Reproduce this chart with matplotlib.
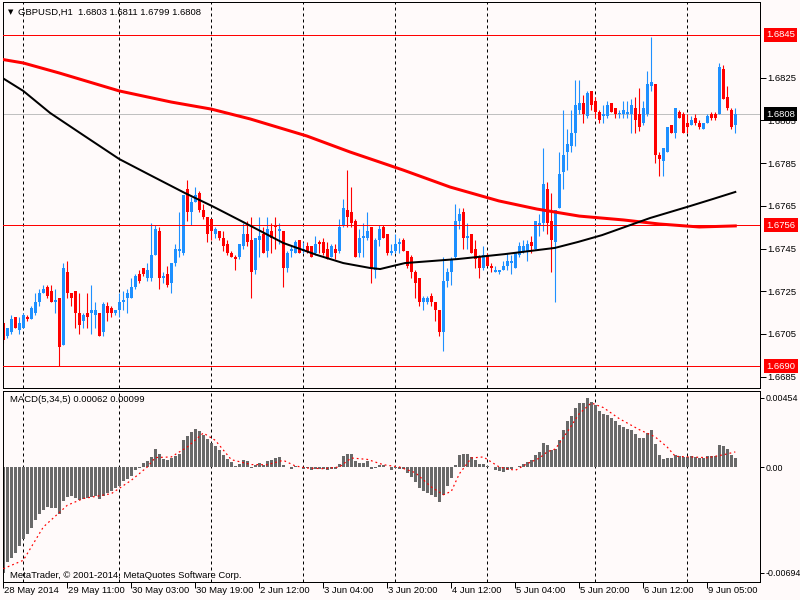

# GBPUSD H1 con MACD, estilo MetaTrader
import matplotlib
matplotlib.use('Agg')
import matplotlib.pyplot as plt
import matplotlib.transforms as mtransforms

# %% datos (velas de 1 hora)
apertura = [
    1.6710, 1.6704, 1.6706, 1.6713, 1.6707, 1.6708, 1.6713, 1.6712, 1.6715, 1.6720,
    1.6724, 1.6727, 1.6725, 1.6720, 1.6722, 1.6700, 1.6734, 1.6724, 1.6725, 1.6715,
    1.6711, 1.6715, 1.6715, 1.6714, 1.6715, 1.6706, 1.6718, 1.6717, 1.6715, 1.6716,
    1.6720, 1.6722, 1.6722, 1.6727, 1.6733, 1.6736, 1.6731, 1.6731, 1.6742, 1.6753,
    1.6731, 1.6733, 1.6729, 1.6738, 1.6744, 1.6743, 1.6773, 1.6762, 1.6767, 1.6771,
    1.6763, 1.6760, 1.6759, 1.6752, 1.6753, 1.6750, 1.6747, 1.6743, 1.6741, 1.6741,
    1.6746, 1.6752, 1.6749, 1.6735, 1.6749, 1.6752, 1.6744, 1.6753, 1.6756, 1.6753,
    1.6753, 1.6736, 1.6744, 1.6743, 1.6749, 1.6744, 1.6746, 1.6746, 1.6743, 1.6748,
    1.6748, 1.6745, 1.6741, 1.6745, 1.6744, 1.6756, 1.6763, 1.6762, 1.6758, 1.6743,
    1.6750, 1.6750, 1.6755, 1.6735, 1.6749, 1.6755, 1.6752, 1.6743, 1.6744, 1.6747,
    1.6749, 1.6744, 1.6741, 1.6734, 1.6731, 1.6720, 1.6720, 1.6723, 1.6720, 1.6716,
    1.6706, 1.6730, 1.6734, 1.6741, 1.6758, 1.6762, 1.6750, 1.6752, 1.6745, 1.6741,
    1.6736, 1.6742, 1.6737, 1.6734, 1.6734, 1.6735, 1.6737, 1.6738, 1.6736, 1.6742,
    1.6744, 1.6744, 1.6748, 1.6745, 1.6756, 1.6757, 1.6773, 1.6758, 1.6748, 1.6764,
    1.6781, 1.6790, 1.6793, 1.6799, 1.6810, 1.6813, 1.6807, 1.6819, 1.6814, 1.6809,
    1.6807, 1.6807, 1.6813, 1.6811, 1.6808, 1.6808, 1.6808, 1.6808, 1.6811, 1.6808,
    1.6804, 1.6808, 1.6821, 1.6822, 1.6789, 1.6786, 1.6790, 1.6803, 1.6799, 1.6809,
    1.6808, 1.6804, 1.6803, 1.6806, 1.6804, 1.6801, 1.6804, 1.6808, 1.6808, 1.6808,
    1.6829, 1.6816, 1.6810, 1.6803]
maximo = [
    1.6711, 1.6708, 1.6714, 1.6713, 1.6713, 1.6715, 1.6714, 1.6718, 1.6724, 1.6726,
    1.6728, 1.6728, 1.6728, 1.6726, 1.6722, 1.6738, 1.6739, 1.6724, 1.6725, 1.6724,
    1.6715, 1.6724, 1.6728, 1.6720, 1.6715, 1.6720, 1.6720, 1.6718, 1.6716, 1.6724,
    1.6725, 1.6726, 1.6731, 1.6733, 1.6735, 1.6736, 1.6738, 1.6757, 1.6756, 1.6755,
    1.6734, 1.6737, 1.6738, 1.6747, 1.6762, 1.6770, 1.6777, 1.6769, 1.6774, 1.6772,
    1.6766, 1.6760, 1.6759, 1.6755, 1.6753, 1.6753, 1.6749, 1.6744, 1.6742, 1.6747,
    1.6757, 1.6758, 1.6760, 1.6750, 1.6760, 1.6755, 1.6760, 1.6757, 1.6760, 1.6757,
    1.6753, 1.6744, 1.6746, 1.6749, 1.6749, 1.6748, 1.6748, 1.6746, 1.6751, 1.6749,
    1.6750, 1.6748, 1.6747, 1.6747, 1.6759, 1.6768, 1.6782, 1.6774, 1.6759, 1.6754,
    1.6757, 1.6762, 1.6755, 1.6750, 1.6756, 1.6756, 1.6752, 1.6747, 1.6752, 1.6750,
    1.6750, 1.6744, 1.6742, 1.6735, 1.6731, 1.6723, 1.6723, 1.6724, 1.6720, 1.6716,
    1.6741, 1.6736, 1.6741, 1.6766, 1.6764, 1.6764, 1.6757, 1.6752, 1.6749, 1.6742,
    1.6746, 1.6743, 1.6738, 1.6737, 1.6735, 1.6739, 1.6743, 1.6742, 1.6743, 1.6748,
    1.6749, 1.6749, 1.6751, 1.6758, 1.6761, 1.6792, 1.6776, 1.6771, 1.6763, 1.6790,
    1.6810, 1.6801, 1.6810, 1.6824, 1.6824, 1.6817, 1.6819, 1.6819, 1.6816, 1.6810,
    1.6812, 1.6814, 1.6813, 1.6811, 1.6810, 1.6814, 1.6814, 1.6815, 1.6816, 1.6820,
    1.6814, 1.6828, 1.6844, 1.6822, 1.6790, 1.6792, 1.6802, 1.6803, 1.6811, 1.6810,
    1.6809, 1.6808, 1.6807, 1.6808, 1.6805, 1.6804, 1.6808, 1.6809, 1.6809, 1.6832,
    1.6831, 1.6821, 1.6811, 1.6811]
minimo = [
    1.6701, 1.6703, 1.6705, 1.6708, 1.6705, 1.6708, 1.6711, 1.6712, 1.6714, 1.6718,
    1.6724, 1.6722, 1.6720, 1.6715, 1.6690, 1.6700, 1.6722, 1.6718, 1.6708, 1.6705,
    1.6708, 1.6708, 1.6705, 1.6708, 1.6704, 1.6704, 1.6711, 1.6713, 1.6714, 1.6713,
    1.6716, 1.6715, 1.6722, 1.6726, 1.6729, 1.6732, 1.6730, 1.6730, 1.6742, 1.6726,
    1.6729, 1.6727, 1.6724, 1.6737, 1.6741, 1.6742, 1.6758, 1.6756, 1.6767, 1.6762,
    1.6759, 1.6748, 1.6749, 1.6750, 1.6749, 1.6744, 1.6742, 1.6741, 1.6735, 1.6740,
    1.6745, 1.6746, 1.6722, 1.6733, 1.6741, 1.6743, 1.6741, 1.6743, 1.6745, 1.6747,
    1.6727, 1.6734, 1.6741, 1.6743, 1.6743, 1.6743, 1.6743, 1.6741, 1.6742, 1.6743,
    1.6742, 1.6740, 1.6741, 1.6740, 1.6743, 1.6755, 1.6755, 1.6755, 1.6741, 1.6741,
    1.6741, 1.6749, 1.6729, 1.6731, 1.6746, 1.6750, 1.6742, 1.6742, 1.6743, 1.6743,
    1.6744, 1.6736, 1.6731, 1.6722, 1.6718, 1.6716, 1.6719, 1.6718, 1.6711, 1.6704,
    1.6697, 1.6727, 1.6728, 1.6740, 1.6754, 1.6745, 1.6745, 1.6743, 1.6736, 1.6731,
    1.6735, 1.6737, 1.6734, 1.6734, 1.6733, 1.6735, 1.6735, 1.6733, 1.6736, 1.6741,
    1.6743, 1.6739, 1.6743, 1.6745, 1.6751, 1.6753, 1.6752, 1.6734, 1.6720, 1.6764,
    1.6773, 1.6782, 1.6790, 1.6793, 1.6808, 1.6804, 1.6806, 1.6810, 1.6806, 1.6804,
    1.6804, 1.6806, 1.6809, 1.6806, 1.6806, 1.6806, 1.6806, 1.6799, 1.6799, 1.6800,
    1.6803, 1.6807, 1.6819, 1.6785, 1.6779, 1.6779, 1.6790, 1.6799, 1.6797, 1.6806,
    1.6799, 1.6799, 1.6803, 1.6803, 1.6801, 1.6801, 1.6804, 1.6805, 1.6805, 1.6808,
    1.6815, 1.6810, 1.6801, 1.6799]
cierre = [
    1.6702, 1.6708, 1.6712, 1.6708, 1.6710, 1.6714, 1.6712, 1.6717, 1.6720, 1.6724,
    1.6726, 1.6723, 1.6720, 1.6721, 1.6699, 1.6736, 1.6724, 1.6722, 1.6715, 1.6709,
    1.6714, 1.6713, 1.6716, 1.6716, 1.6704, 1.6719, 1.6715, 1.6715, 1.6716, 1.6720,
    1.6721, 1.6724, 1.6727, 1.6732, 1.6730, 1.6733, 1.6735, 1.6742, 1.6754, 1.6731,
    1.6732, 1.6728, 1.6738, 1.6745, 1.6745, 1.6770, 1.6762, 1.6767, 1.6770, 1.6763,
    1.6760, 1.6752, 1.6753, 1.6754, 1.6750, 1.6746, 1.6743, 1.6741, 1.6740, 1.6747,
    1.6752, 1.6748, 1.6734, 1.6750, 1.6751, 1.6743, 1.6754, 1.6750, 1.6755, 1.6754,
    1.6736, 1.6743, 1.6745, 1.6748, 1.6743, 1.6745, 1.6744, 1.6741, 1.6747, 1.6747,
    1.6743, 1.6740, 1.6746, 1.6743, 1.6755, 1.6764, 1.6760, 1.6757, 1.6741, 1.6750,
    1.6751, 1.6753, 1.6736, 1.6749, 1.6754, 1.6750, 1.6743, 1.6744, 1.6747, 1.6748,
    1.6744, 1.6737, 1.6734, 1.6729, 1.6720, 1.6722, 1.6722, 1.6720, 1.6716, 1.6706,
    1.6730, 1.6734, 1.6740, 1.6758, 1.6761, 1.6750, 1.6751, 1.6743, 1.6740, 1.6736,
    1.6742, 1.6737, 1.6736, 1.6735, 1.6735, 1.6737, 1.6739, 1.6739, 1.6743, 1.6746,
    1.6746, 1.6747, 1.6746, 1.6758, 1.6757, 1.6775, 1.6757, 1.6749, 1.6763, 1.6780,
    1.6789, 1.6794, 1.6799, 1.6812, 1.6813, 1.6808, 1.6818, 1.6812, 1.6809, 1.6805,
    1.6808, 1.6812, 1.6809, 1.6808, 1.6808, 1.6810, 1.6809, 1.6812, 1.6805, 1.6802,
    1.6811, 1.6822, 1.6823, 1.6789, 1.6787, 1.6792, 1.6802, 1.6799, 1.6811, 1.6806,
    1.6799, 1.6802, 1.6805, 1.6804, 1.6802, 1.6804, 1.6807, 1.6806, 1.6806, 1.6830,
    1.6815, 1.6811, 1.6802, 1.6808]

# medias moviles (lecturas: indice de vela, precio)
ma_lenta_idx = [-1, 5, 14, 29, 42, 52, 61.7, 75.9, 86.7, 99.9, 111.7, 123.9, 133.4, 144,
                155, 164, 174, 183]
ma_lenta = [1.68338, 1.68319, 1.68272, 1.68188, 1.68136, 1.68103, 1.68057, 1.67977, 1.67902,
            1.67818, 1.67738, 1.67673, 1.67635, 1.67602, 1.67584, 1.67565, 1.67551, 1.67556]
ma_rapida_idx = [-1, 5, 11.7, 19.2, 29, 36.7, 45.4, 52.2, 60.4, 70, 78.4, 85, 91.7, 94.2, 100.4,
                 113.7, 125.4, 137.9, 143.7, 149.7, 155.4, 161.7, 171.7, 177.4, 183]
ma_rapida = [1.68258, 1.68188, 1.68085, 1.67991, 1.67869, 1.67794, 1.67710, 1.67649, 1.67570,
             1.67476, 1.67420, 1.67382, 1.67359, 1.67354, 1.67382, 1.67401, 1.67424, 1.67453,
             1.67481, 1.67513, 1.67551, 1.67593, 1.67649, 1.67682, 1.67715]

# lineas horizontales (rojas) y precio bid
niveles = [1.6845, 1.6756, 1.6690]
bid = 1.6808
precios_eje = [1.6825, 1.6805, 1.6785, 1.6765, 1.6745, 1.6725, 1.6705, 1.6685]

# MACD(5,34,5): histograma y señal
macd = [
    -0.00696, -0.00626, -0.00597, -0.00564, -0.00521, -0.00472, -0.00438, -0.00400, -0.00346, -0.00306,
    -0.00285, -0.00262, -0.00269, -0.00269, -0.00306, -0.00226, -0.00197, -0.00188, -0.00203, -0.00219,
    -0.00210, -0.00203, -0.00197, -0.00193, -0.00210, -0.00188, -0.00171, -0.00160, -0.00138, -0.00127,
    -0.00094, -0.00079, -0.00057, -0.00022, -0.00007, 0.00026, 0.00037, 0.00066, 0.00118, 0.00087,
    0.00052, 0.00048, 0.00059, 0.00070, 0.00087, 0.00179, 0.00205, 0.00227, 0.00249, 0.00234,
    0.00212, 0.00184, 0.00157, 0.00140, 0.00113, 0.00081, 0.00052, 0.00030, 0.00009, 0.00022,
    0.00043, 0.00037, -0.00007, 0.00015, 0.00026, 0.00015, 0.00037, 0.00044, 0.00059, 0.00066,
    0.00015, -0.00002, -0.00011, 0.00007, -0.00002, -0.00011, -0.00007, -0.00022, -0.00011, -0.00011,
    -0.00011, -0.00022, -0.00011, -0.00011, 0.00022, 0.00072, 0.00087, 0.00087, 0.00037, 0.00028,
    0.00028, 0.00037, -0.00011, -0.00007, 0.00015, 0.00015, 0.00000, -0.00022, -0.00007, -0.00011,
    -0.00011, -0.00037, -0.00066, -0.00098, -0.00138, -0.00159, -0.00168, -0.00182, -0.00197, -0.00230,
    -0.00182, -0.00125, -0.00072, 0.00015, 0.00081, 0.00087, 0.00087, 0.00066, 0.00044, 0.00020,
    0.00020, 0.00007, 0.00000, -0.00022, -0.00028, -0.00033, -0.00022, -0.00011, 0.00000, 0.00007,
    0.00022, 0.00033, 0.00044, 0.00081, 0.00098, 0.00157, 0.00142, 0.00109, 0.00120, 0.00179,
    0.00241, 0.00302, 0.00333, 0.00387, 0.00420, 0.00420, 0.00454, 0.00424, 0.00405, 0.00367,
    0.00346, 0.00339, 0.00324, 0.00302, 0.00273, 0.00262, 0.00247, 0.00245, 0.00214, 0.00190,
    0.00190, 0.00223, 0.00241, 0.00149, 0.00077, 0.00050, 0.00059, 0.00059, 0.00081, 0.00072,
    0.00066, 0.00066, 0.00070, 0.00066, 0.00061, 0.00061, 0.00070, 0.00070, 0.00070, 0.00142,
    0.00135, 0.00116, 0.00077, 0.00062]
senal_idx = [0, 5, 10, 16, 20, 27, 32, 36, 38, 42, 46, 50, 53, 57, 62, 66, 70, 73, 76, 80, 84,
             87, 91, 95, 99, 103, 107, 110, 112, 114, 117, 120, 124, 128, 131, 134, 136, 138, 141,
             144, 147, 150, 154, 159, 163, 166, 168, 172, 176, 180, 183]
senal = [-0.00667, -0.00612, -0.00394, -0.00251, -0.00207, -0.00175, -0.00087, 0.00000, 0.00062,
         0.00066, 0.00131, 0.00223, 0.00175, 0.00048, 0.00016, 0.00015, 0.00044, 0.00007, -0.00007,
         -0.00011, 0.00000, 0.00059, 0.00050, 0.00015, 0.00000, -0.00037, -0.00131, -0.00182,
         -0.00160, -0.00045, 0.00059, 0.00066, 0.00000, -0.00022, 0.00022, 0.00058, 0.00100,
         0.00118, 0.00230, 0.00350, 0.00420, 0.00390, 0.00317, 0.00245, 0.00197, 0.00130, 0.00070,
         0.00066, 0.00061, 0.00080, 0.00099]
macd_max_lbl = '0.00454'
macd_min_lbl = '-0.00694'

# separadores de dia y etiquetas de fecha
dias_idx = [5, 29, 52, 75, 98, 121, 148, 171]
fechas_idx = [0, 16, 32, 48, 64, 80, 96, 112, 128, 144, 160, 176]
fechas = ['28 May 2014', '29 May 11:00', '30 May 03:00', '30 May 19:00', '2 Jun 12:00',
          '3 Jun 04:00', '3 Jun 20:00', '4 Jun 12:00', '5 Jun 04:00', '5 Jun 20:00',
          '6 Jun 12:00', '9 Jun 05:00']

# %% estilo
fondo = '#FFFAFA'
azul = '#1E90FF'
rojo = '#FF0000'
fuente = 'Liberation Sans'
tam = 6.8
px = 72 / 100  # un pixel en puntos

fig = plt.figure(figsize=(8, 6), dpi=100, facecolor=fondo)
ax1 = fig.add_axes([3 / 800, 212 / 600, 757 / 800, 386 / 600], facecolor=fondo)
ax2 = fig.add_axes([3 / 800, 18 / 600, 757 / 800, 191 / 600], facecolor=fondo)

for ax in (ax1, ax2):
    ax.set_xlim(-0.075, 189.175)
    for s in ax.spines.values():
        s.set_linewidth(px)
        s.set_color('black')
    for d in dias_idx:
        ax.axvline(d, color='black', lw=px, ls=(0, (3, 3)), zorder=1)
    ax.yaxis.tick_right()
    ax.tick_params(axis='y', length=4, width=px, pad=1.5, labelsize=tam, colors='black')

# %% velas
idx = list(range(len(cierre)))
for i in idx:
    o, h, l, c = apertura[i], maximo[i], minimo[i], cierre[i]
    col = azul if c >= o else rojo
    ax1.vlines(i, l, h, color=col, lw=px * 1.1, zorder=2)
    cuerpo = max(abs(c - o), 0.00003)
    ax1.bar(i, cuerpo, bottom=min(o, c), width=0.72, color=col, lw=0, zorder=2)

ax1.plot(ma_lenta_idx, ma_lenta, color=rojo, lw=3 * px, zorder=4)
ax1.plot(ma_rapida_idx, ma_rapida, color='black', lw=2 * px, zorder=4)
for n in niveles:
    ax1.axhline(n, color=rojo, lw=px, zorder=3)
ax1.axhline(bid, color='#C0C0C0', lw=px, zorder=1.5)

ax1.set_ylim(1.667970, 1.686045)
ax1.set_yticks(precios_eje)
ax1.set_yticklabels(['%.4f' % p for p in precios_eje], fontfamily=fuente, fontsize=tam)
ax1.set_xticks([])

# etiquetas resaltadas en el eje de precios
mezcla = mtransforms.blended_transform_factory(ax1.transAxes, ax1.transData)
for n in niveles:
    ax1.text(1.0085, n, '%.4f' % n, transform=mezcla, ha='left', va='center', color='white',
             fontsize=tam, fontfamily=fuente, clip_on=False, zorder=10,
             bbox=dict(boxstyle='square,pad=0.22', fc=rojo, ec='none'))
ax1.text(1.0085, bid, '%.4f' % bid, transform=mezcla, ha='left', va='center', color='white',
         fontsize=tam, fontfamily=fuente, clip_on=False, zorder=10,
         bbox=dict(boxstyle='square,pad=0.22', fc='black', ec='none'))

# titulo
fig.text(8 / 800, 1 - 12 / 600, '\u25BC', fontsize=5, fontfamily='DejaVu Sans', va='center')
fig.text(18 / 800, 1 - 12 / 600, 'GBPUSD,H1  %.4f %.4f %.4f %.4f'
         % (apertura[-1], maximo[-1], minimo[-1], cierre[-1]),
         fontsize=tam, fontfamily=fuente, va='center')

# %% MACD
ax2.bar(idx, macd, width=0.72, color='#696969', lw=0, zorder=2)
ax2.plot(senal_idx, senal, color=rojo, lw=px * 1.2, ls=(0, (1.5, 2.5)), zorder=3)
ax2.set_ylim(-0.007544, 0.004986)
ax2.set_yticks([max(macd), 0.0, min(macd) + 0.00002])
ax2.set_yticklabels([macd_max_lbl, '0.00', macd_min_lbl], fontfamily=fuente, fontsize=6.4)
ax2.tick_params(axis='y', length=3, pad=1)

ax2.set_xticks(fechas_idx)
ax2.set_xticklabels([])
ax2.tick_params(axis='x', length=4, width=px, direction='out')
abajo = mtransforms.blended_transform_factory(ax2.transData, ax2.transAxes)
for f, t in zip(fechas_idx, fechas):
    ax2.text(f + 0.3, -0.045, t, transform=abajo, ha='left', va='center', fontsize=tam,
             fontfamily=fuente, clip_on=False)

ax2.text(7 / 757, 1 - 9 / 191, 'MACD(5,34,5) %.5f %.5f' % (macd[-1], senal[-1]),
         transform=ax2.transAxes, fontsize=tam, fontfamily=fuente, va='center')
ax2.text(7 / 757, 1 - 184 / 191, 'MetaTrader, \u00a9 2001-2014, MetaQuotes Software Corp.',
         transform=ax2.transAxes, fontsize=tam, fontfamily=fuente, va='center', zorder=5)

fig.savefig('out.png', dpi=100, facecolor=fondo)
